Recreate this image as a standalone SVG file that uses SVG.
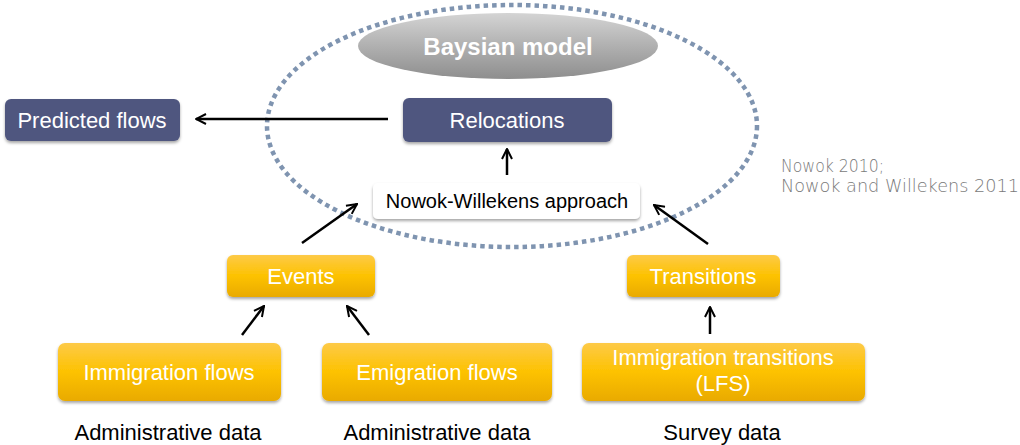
<svg xmlns="http://www.w3.org/2000/svg" width="1020" height="445" viewBox="0 0 1020 445">
<defs>
<linearGradient id="gOr" x1="0" y1="0" x2="0" y2="1">
<stop offset="0" stop-color="#fdca48"/>
<stop offset="0.5" stop-color="#fdc200"/>
<stop offset="1" stop-color="#e9aa00"/>
</linearGradient>
<linearGradient id="gGr" x1="0" y1="0" x2="0" y2="1">
<stop offset="0" stop-color="#d4d4d4"/>
<stop offset="0.5" stop-color="#b0b0b0"/>
<stop offset="1" stop-color="#8e8e8e"/>
</linearGradient>
<filter id="sh" x="-10%" y="-20%" width="120%" height="150%">
<feDropShadow dx="0" dy="2" stdDeviation="1.5" flood-color="#000" flood-opacity="0.35"/>
</filter>
<marker id="arr" viewBox="0 0 10 10" refX="9" refY="5" markerWidth="5" markerHeight="5" orient="auto" markerUnits="strokeWidth">
<path d="M1,1 L9,5 L1,9" fill="none" stroke="#000" stroke-width="1.6"/>
</marker>
</defs>
<style>
.or{fill:url(#gOr);filter:url(#sh)}
.nv{fill:#50577f;filter:url(#sh)}
.wt{fill:#fff;filter:url(#sh)}
.t{font-family:"Liberation Sans",Arial,sans-serif;font-size:22px;text-anchor:middle}
.w{fill:#fff}
.k{fill:#000}
.cite{font-family:"DejaVu Sans",sans-serif;font-size:17px;fill:#7a7a7a;font-weight:200}
.ln{stroke:#000;stroke-width:2.5;fill:none;marker-end:url(#arr)}
</style>
<rect width="1020" height="445" fill="#fff"/>
<g id="model">
<ellipse cx="508" cy="46" rx="150" ry="33" fill="url(#gGr)"/>
<text class="t w" x="508" y="55" style="font-weight:bold;font-size:24px">Baysian model</text>
</g>
<g id="boundary">
<ellipse cx="512" cy="126" rx="245" ry="121" fill="none" stroke="#7f94b0" stroke-width="4.5" stroke-dasharray="4.5 4"/>
</g>
<g id="predicted">
<rect class="nv" x="5" y="99" width="175" height="42" rx="6"/>
<text class="t w" x="92" y="128">Predicted flows</text>
</g>
<g id="relocations">
<rect class="nv" x="403" y="98" width="209" height="44" rx="6"/>
<text class="t w" x="507" y="128">Relocations</text>
</g>
<g id="nw">
<rect class="wt" x="373" y="183" width="267" height="36" rx="5"/>
<text class="t k" x="507" y="208" style="font-size:20px">Nowok-Willekens approach</text>
</g>
<g id="events">
<rect class="or" x="227" y="255" width="148" height="42" rx="6"/>
<text class="t w" x="301" y="284">Events</text>
</g>
<g id="transitions">
<rect class="or" x="627" y="255" width="153" height="42" rx="6"/>
<text class="t w" x="703" y="284">Transitions</text>
</g>
<g id="immflows">
<rect class="or" x="58" y="343" width="223" height="58" rx="7"/>
<text class="t w" x="169" y="380">Immigration flows</text>
</g>
<g id="emiflows">
<rect class="or" x="322" y="343" width="230" height="58" rx="7"/>
<text class="t w" x="437" y="380">Emigration flows</text>
</g>
<g id="immtrans">
<rect class="or" x="582" y="343" width="283" height="58" rx="7"/>
<text class="t w" x="723" y="365">Immigration transitions</text>
<text class="t w" x="723" y="391">(LFS)</text>
</g>
<g id="labels">
<text class="t k" x="168" y="440">Administrative data</text>
<text class="t k" x="437" y="440">Administrative data</text>
<text class="t k" x="722" y="440">Survey data</text>
<text class="cite" x="781" y="172" textLength="103" lengthAdjust="spacingAndGlyphs">Nowok 2010;</text>
<text class="cite" x="781" y="192" textLength="238" lengthAdjust="spacingAndGlyphs">Nowok and Willekens 2011</text>
</g>
<g id="connectors">
<line class="ln" x1="388" y1="119" x2="196" y2="119"/>
<line class="ln" x1="507" y1="175" x2="507" y2="149"/>
<line class="ln" x1="302" y1="243" x2="357" y2="204"/>
<line class="ln" x1="708" y1="244" x2="654" y2="205"/>
<line class="ln" x1="242" y1="335" x2="264" y2="306"/>
<line class="ln" x1="369" y1="335" x2="347" y2="306"/>
<line class="ln" x1="710" y1="334" x2="710" y2="307"/>
</g>
</svg>
